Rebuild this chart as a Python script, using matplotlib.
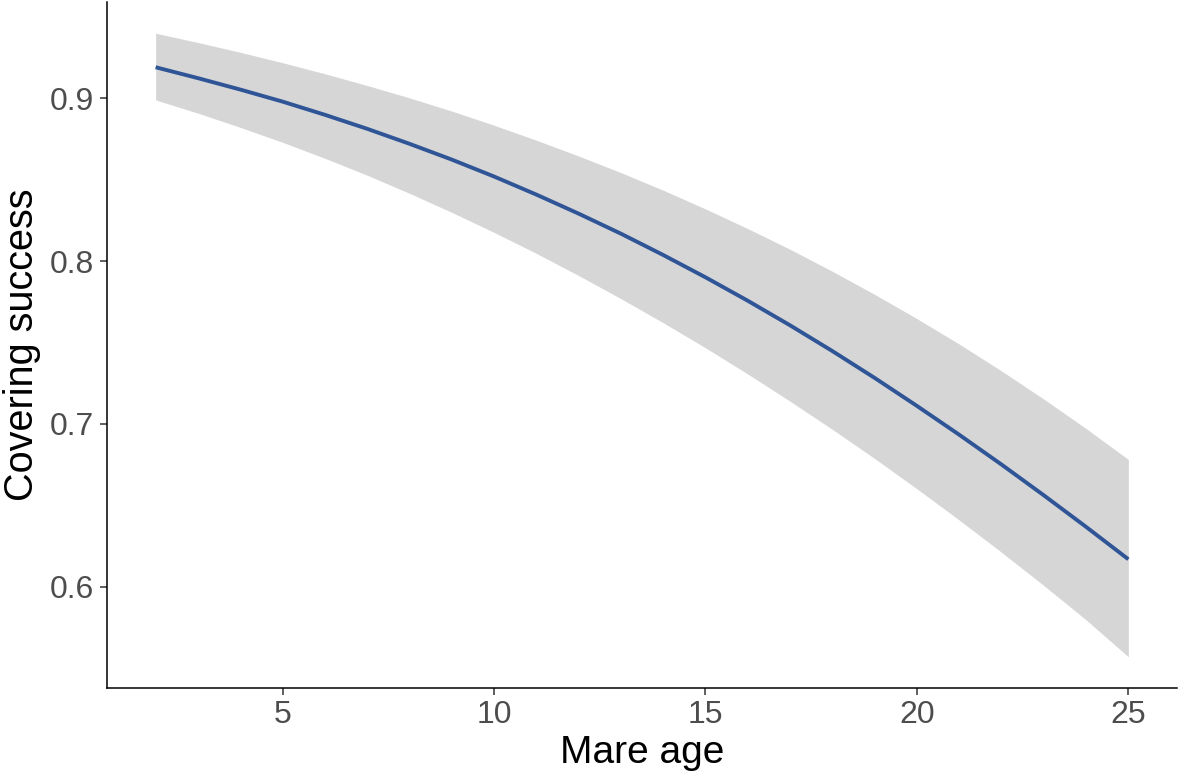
import matplotlib.pyplot as plt

plt.rcParams['font.family'] = ['Liberation Sans', 'DejaVu Sans']

# --- data ---
mare_age = [2, 3, 4, 5, 6, 7, 8, 9, 10, 11, 12, 13,
            14, 15, 16, 17, 18, 19, 20, 21, 22, 23, 24, 25]
covering_fit = [0.9191, 0.9124, 0.9054, 0.8980, 0.8899, 0.8813, 0.8721, 0.8624,
                0.8520, 0.8409, 0.8292, 0.8169, 0.8038, 0.7901, 0.7757, 0.7606,
                0.7448, 0.7283, 0.7111, 0.6934, 0.6751, 0.6562, 0.6368, 0.6169]
ci_lower = [0.8990, 0.8909, 0.8822, 0.8730, 0.8632, 0.8528, 0.8417, 0.8300,
            0.8177, 0.8048, 0.7912, 0.7770, 0.7622, 0.7468, 0.7307, 0.7140,
            0.6967, 0.6788, 0.6602, 0.6410, 0.6212, 0.6008, 0.5797, 0.5570]
ci_upper = [0.9400, 0.9343, 0.9283, 0.9219, 0.9151, 0.9079, 0.9003, 0.8922,
            0.8835, 0.8743, 0.8646, 0.8544, 0.8436, 0.8321, 0.8200, 0.8073,
            0.7938, 0.7796, 0.7647, 0.7491, 0.7326, 0.7153, 0.6972, 0.6782]

x_ticks = [5, 10, 15, 20, 25]
y_ticks = [0.6, 0.7, 0.8, 0.9]

# --- figure ---
fig = plt.figure(figsize=(11.81, 7.80), dpi=100)
ax = fig.add_axes([0.0906, 0.118, 0.906, 0.8794])

ax.fill_between(mare_age, ci_lower, ci_upper, color='#D6D6D6', linewidth=0)
ax.plot(mare_age, covering_fit, color='#2F5597', linewidth=2.8,
        solid_capstyle='butt')

# ggplot-like 5% expansion
x_span = max(mare_age) - min(mare_age)
ax.set_xlim(min(mare_age) - 0.05 * x_span, max(mare_age) + 0.05 * x_span)
y_lo, y_hi = min(ci_lower), max(ci_upper)
y_span = y_hi - y_lo
ax.set_ylim(y_lo - 0.05 * y_span, y_hi + 0.05 * y_span)

ax.set_xticks(x_ticks)
ax.set_yticks(y_ticks)
ax.set_yticklabels([f'{v:.1f}' for v in y_ticks])

for side in ['top', 'right']:
    ax.spines[side].set_visible(False)
for side in ['left', 'bottom']:
    ax.spines[side].set_color('black')
    ax.spines[side].set_linewidth(1.1)

ax.tick_params(axis='both', direction='out', length=5, width=1.1,
               color='#333333', labelcolor='#4D4D4D', labelsize=23, pad=4)

ax.set_xlabel('Mare age', fontsize=28, color='black', labelpad=3)
ax.set_ylabel('Covering success', fontsize=28.5, color='black', labelpad=7)

fig.savefig('out.png', dpi=100)
